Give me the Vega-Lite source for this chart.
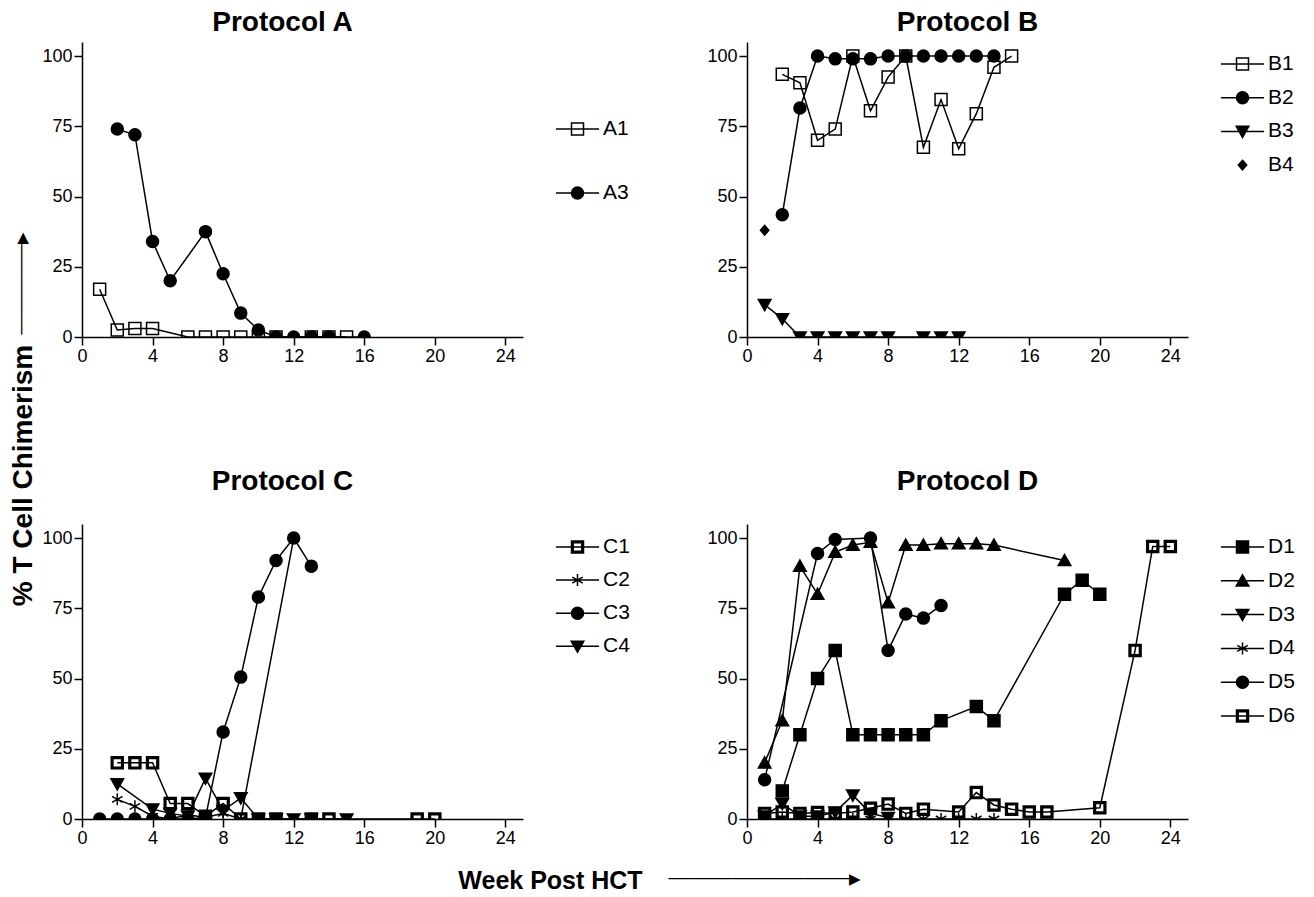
{
  "$schema": "https://vega.github.io/schema/vega-lite/v6.json",
  "padding": {"left": 9, "top": 9, "right": 5, "bottom": 0},
  "background": "white",
  "data": {"values": [
    {"p":"A","s":"A1","w":1,"v":17},{"p":"A","s":"A1","w":2,"v":2.5},{"p":"A","s":"A1","w":3,"v":3},{"p":"A","s":"A1","w":4,"v":3},{"p":"A","s":"A1","w":6,"v":0},{"p":"A","s":"A1","w":7,"v":0},{"p":"A","s":"A1","w":8,"v":0},{"p":"A","s":"A1","w":9,"v":0},{"p":"A","s":"A1","w":10,"v":0},{"p":"A","s":"A1","w":11,"v":0},{"p":"A","s":"A1","w":13,"v":0},{"p":"A","s":"A1","w":14,"v":0},{"p":"A","s":"A1","w":15,"v":0},
    {"p":"A","s":"A3","w":2,"v":74},{"p":"A","s":"A3","w":3,"v":72},{"p":"A","s":"A3","w":4,"v":34},{"p":"A","s":"A3","w":5,"v":20},{"p":"A","s":"A3","w":7,"v":37.5},{"p":"A","s":"A3","w":8,"v":22.5},{"p":"A","s":"A3","w":9,"v":8.5},{"p":"A","s":"A3","w":10,"v":2.5},{"p":"A","s":"A3","w":11,"v":0},{"p":"A","s":"A3","w":12,"v":0},{"p":"A","s":"A3","w":13,"v":0},{"p":"A","s":"A3","w":14,"v":0},{"p":"A","s":"A3","w":16,"v":0},
    {"p":"B","s":"B1","w":2,"v":93.5},{"p":"B","s":"B1","w":3,"v":90.5},{"p":"B","s":"B1","w":4,"v":70},{"p":"B","s":"B1","w":5,"v":74},{"p":"B","s":"B1","w":6,"v":100},{"p":"B","s":"B1","w":7,"v":80.5},{"p":"B","s":"B1","w":8,"v":92.5},{"p":"B","s":"B1","w":9,"v":100},{"p":"B","s":"B1","w":10,"v":67.5},{"p":"B","s":"B1","w":11,"v":84.5},{"p":"B","s":"B1","w":12,"v":67},{"p":"B","s":"B1","w":13,"v":79.5},{"p":"B","s":"B1","w":14,"v":96},{"p":"B","s":"B1","w":15,"v":100},
    {"p":"B","s":"B2","w":2,"v":43.5},{"p":"B","s":"B2","w":3,"v":81.5},{"p":"B","s":"B2","w":4,"v":100},{"p":"B","s":"B2","w":5,"v":99},{"p":"B","s":"B2","w":6,"v":99},{"p":"B","s":"B2","w":7,"v":99},{"p":"B","s":"B2","w":8,"v":100},{"p":"B","s":"B2","w":9,"v":100},{"p":"B","s":"B2","w":10,"v":100},{"p":"B","s":"B2","w":11,"v":100},{"p":"B","s":"B2","w":12,"v":100},{"p":"B","s":"B2","w":13,"v":100},{"p":"B","s":"B2","w":14,"v":100},
    {"p":"B","s":"B3","w":1,"v":11.5},{"p":"B","s":"B3","w":2,"v":6.5},{"p":"B","s":"B3","w":3,"v":0},{"p":"B","s":"B3","w":4,"v":0},{"p":"B","s":"B3","w":5,"v":0},{"p":"B","s":"B3","w":6,"v":0},{"p":"B","s":"B3","w":7,"v":0},{"p":"B","s":"B3","w":8,"v":0},{"p":"B","s":"B3","w":10,"v":0},{"p":"B","s":"B3","w":11,"v":0},{"p":"B","s":"B3","w":12,"v":0},
    {"p":"B","s":"B4","w":1,"v":38},
    {"p":"C","s":"C1","w":2,"v":20},{"p":"C","s":"C1","w":3,"v":20},{"p":"C","s":"C1","w":4,"v":20},{"p":"C","s":"C1","w":5,"v":5.5},{"p":"C","s":"C1","w":6,"v":5.5},{"p":"C","s":"C1","w":7,"v":1},{"p":"C","s":"C1","w":8,"v":5.5},{"p":"C","s":"C1","w":9,"v":0},{"p":"C","s":"C1","w":10,"v":0},{"p":"C","s":"C1","w":11,"v":0},{"p":"C","s":"C1","w":13,"v":0},{"p":"C","s":"C1","w":14,"v":0},{"p":"C","s":"C1","w":19,"v":0},{"p":"C","s":"C1","w":20,"v":0},
    {"p":"C","s":"C2","w":2,"v":7},{"p":"C","s":"C2","w":3,"v":4.5},{"p":"C","s":"C2","w":4,"v":1},{"p":"C","s":"C2","w":5,"v":0},{"p":"C","s":"C2","w":6,"v":1.5},{"p":"C","s":"C2","w":7,"v":0.5},{"p":"C","s":"C2","w":8,"v":2},{"p":"C","s":"C2","w":9,"v":0},{"p":"C","s":"C2","w":12,"v":100},
    {"p":"C","s":"C3","w":1,"v":0},{"p":"C","s":"C3","w":2,"v":0},{"p":"C","s":"C3","w":3,"v":0},{"p":"C","s":"C3","w":4,"v":0},{"p":"C","s":"C3","w":5,"v":0},{"p":"C","s":"C3","w":6,"v":0},{"p":"C","s":"C3","w":7,"v":0.5},{"p":"C","s":"C3","w":8,"v":31},{"p":"C","s":"C3","w":9,"v":50.5},{"p":"C","s":"C3","w":10,"v":79},{"p":"C","s":"C3","w":11,"v":92},{"p":"C","s":"C3","w":12,"v":100},{"p":"C","s":"C3","w":13,"v":90},
    {"p":"C","s":"C4","w":2,"v":12.5},{"p":"C","s":"C4","w":4,"v":3.5},{"p":"C","s":"C4","w":5,"v":2},{"p":"C","s":"C4","w":6,"v":1},{"p":"C","s":"C4","w":7,"v":14.5},{"p":"C","s":"C4","w":8,"v":3},{"p":"C","s":"C4","w":9,"v":7.5},{"p":"C","s":"C4","w":10,"v":0},{"p":"C","s":"C4","w":11,"v":0},{"p":"C","s":"C4","w":12,"v":0},{"p":"C","s":"C4","w":13,"v":0},{"p":"C","s":"C4","w":15,"v":0},
    {"p":"D","s":"D1","w":2,"v":10},{"p":"D","s":"D1","w":3,"v":30},{"p":"D","s":"D1","w":4,"v":50},{"p":"D","s":"D1","w":5,"v":60},{"p":"D","s":"D1","w":6,"v":30},{"p":"D","s":"D1","w":7,"v":30},{"p":"D","s":"D1","w":8,"v":30},{"p":"D","s":"D1","w":9,"v":30},{"p":"D","s":"D1","w":10,"v":30},{"p":"D","s":"D1","w":11,"v":35},{"p":"D","s":"D1","w":13,"v":40},{"p":"D","s":"D1","w":14,"v":35},{"p":"D","s":"D1","w":18,"v":80},{"p":"D","s":"D1","w":19,"v":85},{"p":"D","s":"D1","w":20,"v":80},
    {"p":"D","s":"D2","w":1,"v":20},{"p":"D","s":"D2","w":2,"v":35},{"p":"D","s":"D2","w":3,"v":90},{"p":"D","s":"D2","w":4,"v":80},{"p":"D","s":"D2","w":5,"v":95},{"p":"D","s":"D2","w":6,"v":97.5},{"p":"D","s":"D2","w":7,"v":98.5},{"p":"D","s":"D2","w":8,"v":77},{"p":"D","s":"D2","w":9,"v":97.5},{"p":"D","s":"D2","w":10,"v":97.5},{"p":"D","s":"D2","w":11,"v":98},{"p":"D","s":"D2","w":12,"v":98},{"p":"D","s":"D2","w":13,"v":98},{"p":"D","s":"D2","w":14,"v":97.5},{"p":"D","s":"D2","w":18,"v":92},
    {"p":"D","s":"D3","w":1,"v":1},{"p":"D","s":"D3","w":2,"v":5.5},{"p":"D","s":"D3","w":3,"v":1},{"p":"D","s":"D3","w":4,"v":1},{"p":"D","s":"D3","w":5,"v":2.5},{"p":"D","s":"D3","w":6,"v":8.5},{"p":"D","s":"D3","w":7,"v":2},{"p":"D","s":"D3","w":8,"v":0.5},
    {"p":"D","s":"D4","w":1,"v":0},{"p":"D","s":"D4","w":2,"v":0},{"p":"D","s":"D4","w":3,"v":0},{"p":"D","s":"D4","w":4,"v":0},{"p":"D","s":"D4","w":5,"v":0},{"p":"D","s":"D4","w":6,"v":0},{"p":"D","s":"D4","w":7,"v":0},{"p":"D","s":"D4","w":8,"v":0},{"p":"D","s":"D4","w":9,"v":0},{"p":"D","s":"D4","w":10,"v":0},{"p":"D","s":"D4","w":11,"v":0},{"p":"D","s":"D4","w":12,"v":0},{"p":"D","s":"D4","w":13,"v":0},{"p":"D","s":"D4","w":14,"v":0},
    {"p":"D","s":"D5","w":1,"v":14},{"p":"D","s":"D5","w":4,"v":94.5},{"p":"D","s":"D5","w":5,"v":99.5},{"p":"D","s":"D5","w":7,"v":100},{"p":"D","s":"D5","w":8,"v":60},{"p":"D","s":"D5","w":9,"v":73},{"p":"D","s":"D5","w":10,"v":71.5},{"p":"D","s":"D5","w":11,"v":76},
    {"p":"D","s":"D6","w":1,"v":2},{"p":"D","s":"D6","w":2,"v":2.5},{"p":"D","s":"D6","w":3,"v":2},{"p":"D","s":"D6","w":4,"v":2.3},{"p":"D","s":"D6","w":5,"v":2},{"p":"D","s":"D6","w":6,"v":2.5},{"p":"D","s":"D6","w":7,"v":3.8},{"p":"D","s":"D6","w":8,"v":5.3},{"p":"D","s":"D6","w":9,"v":2},{"p":"D","s":"D6","w":10,"v":3.5},{"p":"D","s":"D6","w":12,"v":2.5},{"p":"D","s":"D6","w":13,"v":9.4},{"p":"D","s":"D6","w":14,"v":5},{"p":"D","s":"D6","w":15,"v":3.5},{"p":"D","s":"D6","w":16,"v":2.5},{"p":"D","s":"D6","w":17,"v":2.5},{"p":"D","s":"D6","w":20,"v":4},{"p":"D","s":"D6","w":22,"v":60},{"p":"D","s":"D6","w":23,"v":97},{"p":"D","s":"D6","w":24,"v":97}
  ]},
  "bounds": "flush",
  "columns": 2,
  "spacing": {"row": 187, "column": 224},
  "resolve": {
    "scale": {"shape": "independent", "x": "independent", "y": "independent"},
    "legend": {"shape": "independent"}
  },
  "concat": [
    {
      "width": 441, "height": 295,
      "title": {"text": "Protocol A", "dx": -20, "offset": -17, "baseline": "alphabetic", "frame": "group"},
      "transform": [{"filter": "datum.p === 'A'"}],
      "resolve": {"scale": {"shape": "independent"}},
      "encoding": {
        "x": {"field": "w", "type": "quantitative", "scale": {"domain": [0, 25], "nice": false}, "axis": {"values": [0, 4, 8, 12, 16, 20, 24], "title": null, "labelFlush": false}},
        "y": {"field": "v", "type": "quantitative", "scale": {"domain": [0, 105], "nice": false}, "axis": {"values": [0, 25, 50, 75, 100], "title": "% T Cell Chimerism", "titleX": -59, "titleY": 433, "titleAngle": -90, "titleAlign": "center", "titleBaseline": "middle", "titleFont": "Liberation Sans", "titleFontSize": 28, "titleFontWeight": "bold"}}
      },
      "layer": [
        {"mark": {"type": "line", "color": "black", "strokeWidth": 1.5, "clip": true}, "encoding": {"detail": {"field": "s"}}},
        {"mark": {"type": "point", "filled": true, "fill": "black", "stroke": "black", "strokeWidth": 1.5, "opacity": 1, "size": 144, "clip": true},
         "encoding": {"shape": {"field": "s", "type": "nominal", "legend": null, "scale": {"domain": ["A1", "A3"], "range": ["M-1,-1H1V1H-1ZM-1,-1V1H1V-1Z", "M1,0A1,1,0,1,1,-1,0A1,1,0,1,1,1,0Z"]}}}},
        {"mark": {"type": "point", "filled": true, "fill": "black", "stroke": "black", "strokeWidth": 1.5, "opacity": 0, "size": 144, "clip": true},
         "encoding": {"shape": {"field": "s", "type": "nominal", "scale": {"domain": ["A1", "A3"], "range": ["M-3.6,0H3.6M-1,-1H1V1H-1ZM-1,-1V1H1V-1Z", "M-3.6,0H3.6M1,0A1,1,0,1,1,-1,0A1,1,0,1,1,1,0Z"]},
           "legend": {"title": null, "orient": "none", "legendX": 485, "legendY": 76.5, "rowPadding": 42}}}}
      ]
    },
    {
      "width": 441, "height": 295,
      "title": {"text": "Protocol B", "offset": -17, "baseline": "alphabetic", "frame": "group"},
      "transform": [{"filter": "datum.p === 'B'"}],
      "resolve": {"scale": {"shape": "independent"}},
      "encoding": {
        "x": {"field": "w", "type": "quantitative", "scale": {"domain": [0, 25], "nice": false}, "axis": {"values": [0, 4, 8, 12, 16, 20, 24], "title": null, "labelFlush": false}},
        "y": {"field": "v", "type": "quantitative", "scale": {"domain": [0, 105], "nice": false}, "axis": {"values": [0, 25, 50, 75, 100], "title": "──────────▶", "titleX": -726, "titleY": 241, "titleAngle": -90, "titleAlign": "center", "titleBaseline": "middle", "titleFont": "DejaVu Sans", "titleFontSize": 15, "titleFontWeight": "normal"}}
      },
      "layer": [
        {"mark": {"type": "line", "color": "black", "strokeWidth": 1.5, "clip": true}, "encoding": {"detail": {"field": "s"}}},
        {"mark": {"type": "point", "filled": true, "fill": "black", "stroke": "black", "strokeWidth": 1.5, "opacity": 1, "size": 144, "clip": true},
         "encoding": {"shape": {"field": "s", "type": "nominal", "legend": null, "scale": {"domain": ["B1", "B2", "B3", "B4"], "range": ["M-1,-1H1V1H-1ZM-1,-1V1H1V-1Z", "M1,0A1,1,0,1,1,-1,0A1,1,0,1,1,1,0Z", "M-1.05,-0.85H1.05L0,1Z", "M0,-0.8L0.7,0L0,0.8L-0.7,0Z"]}}}},
        {"mark": {"type": "point", "filled": true, "fill": "black", "stroke": "black", "strokeWidth": 1.5, "opacity": 0, "size": 144, "clip": true},
         "encoding": {"shape": {"field": "s", "type": "nominal", "scale": {"domain": ["B1", "B2", "B3", "B4"], "range": ["M-3.6,0H3.6M-1,-1H1V1H-1ZM-1,-1V1H1V-1Z", "M-3.6,0H3.6M1,0A1,1,0,1,1,-1,0A1,1,0,1,1,1,0Z", "M-3.6,0H3.6M-1.05,-0.85H1.05L0,1Z", "M0,-0.8L0.7,0L0,0.8L-0.7,0Z"]},
           "legend": {"title": null, "orient": "none", "legendX": 485, "legendY": 11.5, "rowPadding": 11.7}}}}
      ]
    },
    {
      "width": 441, "height": 295,
      "title": {"text": "Protocol C", "dx": -20, "offset": 6, "baseline": "alphabetic", "frame": "group"},
      "transform": [{"filter": "datum.p === 'C'"}],
      "resolve": {"scale": {"shape": "independent"}},
      "encoding": {
        "x": {"field": "w", "type": "quantitative", "scale": {"domain": [0, 25], "nice": false}, "axis": {"values": [0, 4, 8, 12, 16, 20, 24], "labelFlush": false, "title": "Week Post HCT", "titleX": 468, "titleY": 61, "titleAlign": "center", "titleBaseline": "middle", "titleFont": "Liberation Sans", "titleFontSize": 25, "titleFontWeight": "bold"}},
        "y": {"field": "v", "type": "quantitative", "scale": {"domain": [0, 105], "nice": false}, "axis": {"values": [0, 25, 50, 75, 100], "title": null}}
      },
      "layer": [
        {"mark": {"type": "line", "color": "black", "strokeWidth": 1.5, "clip": true}, "encoding": {"detail": {"field": "s"}}},
        {"mark": {"type": "point", "filled": true, "fill": "black", "stroke": "black", "strokeWidth": 1.5, "opacity": 1, "size": 144, "clip": true},
         "encoding": {"shape": {"field": "s", "type": "nominal", "legend": null, "scale": {"domain": ["C1", "C2", "C3", "C4"], "range": ["M-1,-1H1V1H-1ZM-0.72,-0.72V0.72H0.72V-0.72Z", "M0,-1V1M-0.87,-0.5L0.87,0.5M-0.87,0.5L0.87,-0.5", "M1,0A1,1,0,1,1,-1,0A1,1,0,1,1,1,0Z", "M-1.05,-0.85H1.05L0,1Z"]}}}},
        {"mark": {"type": "point", "filled": true, "fill": "black", "stroke": "black", "strokeWidth": 1.5, "opacity": 0, "size": 144, "clip": true},
         "encoding": {"shape": {"field": "s", "type": "nominal", "scale": {"domain": ["C1", "C2", "C3", "C4"], "range": ["M-3.6,0H3.6M-1,-1H1V1H-1ZM-0.72,-0.72V0.72H0.72V-0.72Z", "M-3.6,0H3.6M0,-1V1M-0.87,-0.5L0.87,0.5M-0.87,0.5L0.87,-0.5", "M-3.6,0H3.6M1,0A1,1,0,1,1,-1,0A1,1,0,1,1,1,0Z", "M-3.6,0H3.6M-1.05,-0.85H1.05L0,1Z"]},
           "legend": {"title": null, "orient": "none", "legendX": 485, "legendY": 12.5, "rowPadding": 11.1}}}}
      ]
    },
    {
      "width": 441, "height": 295,
      "title": {"text": "Protocol D", "offset": 6, "baseline": "alphabetic", "frame": "group"},
      "transform": [{"filter": "datum.p === 'D'"}],
      "resolve": {"scale": {"shape": "independent"}},
      "encoding": {
        "x": {"field": "w", "type": "quantitative", "scale": {"domain": [0, 25], "nice": false}, "axis": {"values": [0, 4, 8, 12, 16, 20, 24], "labelFlush": false, "title": "────────────────────▶", "titleX": 17, "titleY": 59, "titleAlign": "center", "titleBaseline": "middle", "titleFont": "DejaVu Sans", "titleFontSize": 15, "titleFontWeight": "normal"}},
        "y": {"field": "v", "type": "quantitative", "scale": {"domain": [0, 105], "nice": false}, "axis": {"values": [0, 25, 50, 75, 100], "title": null}}
      },
      "layer": [
        {"mark": {"type": "line", "color": "black", "strokeWidth": 1.5, "clip": true}, "encoding": {"detail": {"field": "s"}}},
        {"mark": {"type": "point", "filled": true, "fill": "black", "stroke": "black", "strokeWidth": 1.5, "opacity": 1, "size": 144, "clip": true},
         "encoding": {"shape": {"field": "s", "type": "nominal", "legend": null, "scale": {"domain": ["D1", "D2", "D3", "D4", "D5", "D6"], "range": ["M-1,-1H1V1H-1Z", "M0,-1L1.05,0.85H-1.05Z", "M-1.05,-0.85H1.05L0,1Z", "M0,-1V1M-0.87,-0.5L0.87,0.5M-0.87,0.5L0.87,-0.5", "M1,0A1,1,0,1,1,-1,0A1,1,0,1,1,1,0Z", "M-1,-1H1V1H-1ZM-0.72,-0.72V0.72H0.72V-0.72Z"]}}}},
        {"mark": {"type": "point", "filled": true, "fill": "black", "stroke": "black", "strokeWidth": 1.5, "opacity": 0, "size": 144, "clip": true},
         "encoding": {"shape": {"field": "s", "type": "nominal", "scale": {"domain": ["D1", "D2", "D3", "D4", "D5", "D6"], "range": ["M-3.6,0H3.6M-1,-1H1V1H-1Z", "M-3.6,0H3.6M0,-1L1.05,0.85H-1.05Z", "M-3.6,0H3.6M-1.05,-0.85H1.05L0,1Z", "M-3.6,0H3.6M0,-1V1M-0.87,-0.5L0.87,0.5M-0.87,0.5L0.87,-0.5", "M-3.6,0H3.6M1,0A1,1,0,1,1,-1,0A1,1,0,1,1,1,0Z", "M-3.6,0H3.6M-1,-1H1V1H-1ZM-0.72,-0.72V0.72H0.72V-0.72Z"]},
           "legend": {"title": null, "orient": "none", "legendX": 485, "legendY": 12.5, "rowPadding": 11.8}}}}
      ]
    }
  ],
  "config": {
    "view": {"stroke": null},
    "font": "Liberation Sans",
    "axis": {"domainColor": "black", "domainWidth": 1.5, "tickColor": "black", "tickWidth": 1.5, "tickSize": 8, "labelColor": "black", "labelFontSize": 18, "labelFont": "Liberation Sans", "labelPadding": 2, "grid": false, "titleColor": "black"},
    "title": {"font": "Liberation Sans", "fontSize": 28, "fontWeight": "bold", "color": "black", "anchor": "middle"},
    "legend": {"labelFont": "Liberation Sans", "labelFontSize": 21, "labelColor": "black", "symbolStrokeWidth": 1.5, "symbolSize": 144, "symbolOpacity": 1, "labelOffset": 15, "padding": 0}
  }
}
